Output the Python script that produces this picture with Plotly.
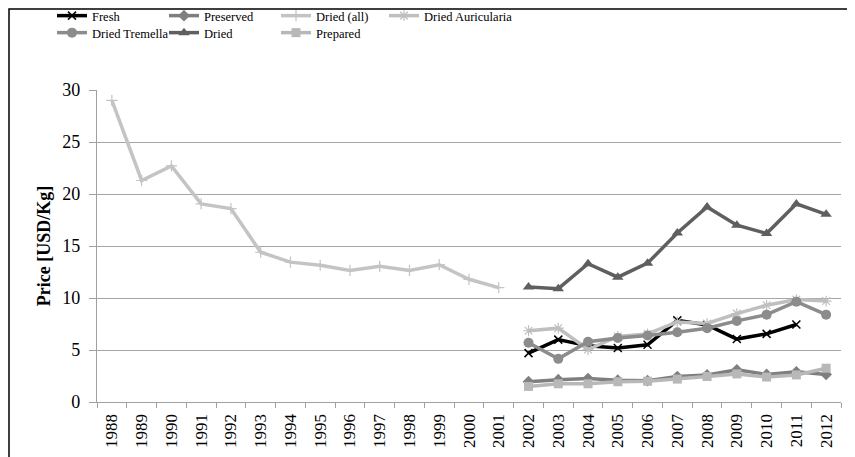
import plotly.graph_objects as go

years = [str(y) for y in range(1988, 2013)]
years_late = [str(y) for y in range(2002, 2013)]
years_early = [str(y) for y in range(1988, 2002)]

fresh = [4.7, 6.0, 5.4, 5.2, 5.5, 7.85, 7.4, 6.05, 6.55, 7.45, None]
preserved = [1.95, 2.15, 2.25, 2.1, 2.05, 2.45, 2.6, 3.1, 2.65, 2.9, 2.65]
dried_all = [29.0, 21.3, 22.7, 19.05, 18.6, 14.4, 13.45, 13.15, 12.65, 13.05, 12.65, 13.2, 11.8, 11.0]
dried_auricularia = [6.85, 7.1, 5.05, 6.3, 6.55, 7.7, 7.55, 8.5, 9.3, 9.85, 9.7]
dried_tremella = [5.7, 4.15, 5.8, 6.15, 6.4, 6.7, 7.1, 7.8, 8.4, 9.65, 8.4]
dried = [11.05, 10.9, 13.3, 12.0, 13.35, 16.25, 18.75, 17.0, 16.2, 19.05, 18.05]
prepared = [1.5, 1.75, 1.75, 1.95, 2.0, 2.2, 2.45, 2.7, 2.4, 2.6, 3.25]

y_ticks = [0, 5, 10, 15, 20, 25, 30]

FONT = "Liberation Serif, Times New Roman, serif"

# the page body adds an 8px offset, so the figure is sized to fit the window
W, H = 847, 449
L, R, T, B = 89, 14, 82, 55
PW, PH = W - L - R, H - T - B

fig = go.Figure()

def add(name, x, y, color, symbol, msize, legend, lw=3.5, mline=None):
    marker = dict(symbol=symbol, size=msize, color=color)
    if mline:
        marker["line"] = dict(color=color, width=mline)
    fig.add_trace(go.Scatter(
        x=x, y=y, name=name, mode="lines+markers",
        line=dict(color=color, width=lw),
        marker=marker, legend=legend, connectgaps=False,
    ))

add("Fresh", years_late, fresh, "#000000", "x-thin", 8, "legend", mline=1.5)
add("Preserved", years_late, preserved, "#7f7f7f", "diamond", 9, "legend")
add("Dried (all)", years_early, dried_all, "#c4c4c4", "cross-thin", 8, "legend", mline=1.2)
add("Dried Auricularia", years_late, dried_auricularia, "#bfbfbf", "asterisk", 9, "legend3", mline=1.2)
add("Dried Tremella", years_late, dried_tremella, "#8c8c8c", "circle", 10, "legend2")
add("Dried", years_late, dried, "#5f5f5f", "triangle-up", 10, "legend2")
add("Prepared", years_late, prepared, "#b8b8b8", "square", 9, "legend2")

legend_common = dict(
    orientation="h", xanchor="left", yanchor="middle",
    xref="container", yref="container",
    font=dict(family=FONT, size=12.5, color="#000000"),
    bgcolor="rgba(0,0,0,0)", entrywidth=67, entrywidthmode="pixels",
    itemwidth=30, tracegroupgap=0,
)
legend3_common = {k: v for k, v in legend_common.items() if k not in ("entrywidth", "entrywidthmode")}

fig.update_layout(
    width=W, height=H,
    margin=dict(l=L, r=R, t=T, b=B),
    paper_bgcolor="white", plot_bgcolor="white",
    font=dict(family=FONT, color="#000000"),
    showlegend=True,
    legend=dict(x=44 / W, y=1 - 8 / H, **legend_common),
    legend2=dict(x=44 / W, y=1 - 25 / H, **legend_common),
    legend3=dict(x=376 / W, y=1 - 8 / H, **legend3_common),
    xaxis=dict(
        type="category", categoryorder="array", categoryarray=years,
        range=[-0.5, len(years) - 0.5], automargin=False,
        tickangle=-90, tickfont=dict(family=FONT, size=17), ticklabelstandoff=4,
        tickson="boundaries", ticks="outside", ticklen=5, tickcolor="#a0a0a0",
        showline=True, linecolor="#a0a0a0", linewidth=1.3,
        showgrid=False, zeroline=False,
    ),
    yaxis=dict(
        range=[0, 30], tickvals=y_ticks, automargin=False,
        tickfont=dict(family=FONT, size=18), ticklabelstandoff=5,
        ticks="outside", ticklen=7, tickcolor="#a0a0a0",
        showline=True, linecolor="#a0a0a0", linewidth=1.3,
        showgrid=True, gridcolor="#a6a6a6", gridwidth=1.2,
        zeroline=False,
        title=dict(text="<b>Price [USD/Kg]</b>", font=dict(family=FONT, size=18), standoff=6),
    ),
    shapes=[dict(
        type="rect", xref="paper", yref="paper",
        x0=(1 - L) / PW, x1=(W + 10 - L) / PW,
        y0=-(B + 10) / PH, y1=(PH + T - 1) / PH,
        line=dict(color="#000000", width=1.5), fillcolor="rgba(0,0,0,0)", layer="below",
    )],
)

fig.write_html("out.html")
